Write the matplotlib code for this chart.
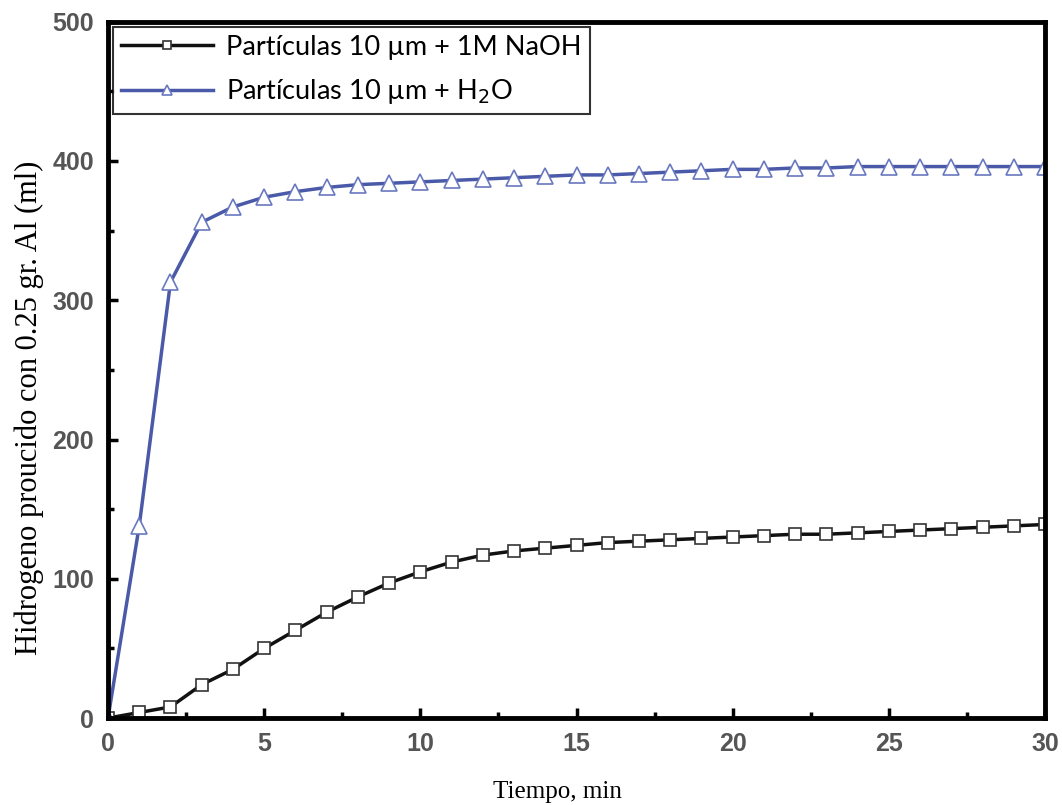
import matplotlib
matplotlib.use('Agg')
import matplotlib.pyplot as plt
from matplotlib.ticker import MultipleLocator

# tiempo (min)
tiempo = list(range(0, 31))

# Particulas 10 um + 1M NaOH
naoh = [0, 4, 8, 24, 35, 50, 63, 76, 87, 97, 105, 112, 117, 120, 122, 124,
        126, 127, 128, 129, 130, 131, 132, 132, 133, 134, 135, 136, 137, 138, 139]

# Particulas 10 um + H2O
agua = [0, 138, 313, 356, 367, 374, 378, 381, 383, 384, 385, 386, 387, 388, 389, 390,
        390, 391, 392, 393, 394, 394, 395, 395, 396, 396, 396, 396, 396, 396, 396]

label_naoh = 'Partículas 10 µm + 1M NaOH'
label_agua = 'Partículas 10 µm + H$_2$O'

fig = plt.figure(figsize=(10.62, 8.05), dpi=100)
ax = fig.add_axes([0.1017, 0.108, 0.8823, 0.865])

ax.plot(tiempo, naoh, color='#111111', lw=2.5, marker='s', ms=8,
        mfc='white', mec='#333333', mew=1.2, label=label_naoh)
ax.plot(tiempo, agua, color='#4a5aa8', lw=2.5, marker='^', ms=11,
        mfc='white', mec='#6a78c0', mew=1.2, label=label_agua)

ax.set_xlim(0, 30)
ax.set_ylim(0, 500)
ax.xaxis.set_major_locator(MultipleLocator(5))
ax.xaxis.set_minor_locator(MultipleLocator(2.5))
ax.yaxis.set_major_locator(MultipleLocator(100))
ax.yaxis.set_minor_locator(MultipleLocator(50))
ax.tick_params(which='both', direction='in', width=2.5, colors='black',
               labelcolor='#555555', labelsize=18, pad=10)
ax.tick_params(which='major', length=7)
ax.tick_params(which='minor', length=4)
ax.tick_params(axis='both', which='both', top=False, right=False)
for lab in ax.get_xticklabels() + ax.get_yticklabels():
    lab.set_fontfamily('Liberation Sans')
    lab.set_fontweight('bold')
for sp in ax.spines.values():
    sp.set_linewidth(3.5)

ax.set_xlabel('Tiempo, min', fontfamily='Liberation Serif', fontsize=18)
ax.xaxis.set_label_coords(0.48, -0.09)
ax.set_ylabel('Hidrogeno proucido con 0.25 gr. Al (ml)', fontfamily='Liberation Serif',
              fontsize=22)
ax.yaxis.set_label_coords(-0.068, 0.445)

leg = ax.legend(loc='upper left', bbox_to_anchor=(0.005, 0.993), borderaxespad=0,
                prop={'family': 'Lato', 'size': 19.5}, markerscale=0.7,
                frameon=True, fancybox=False, edgecolor='black', handlelength=3.4,
                borderpad=0.3, labelspacing=0.65, handletextpad=0.5)
leg.get_frame().set_linewidth(1.5)

fig.savefig('out.png', dpi=100)
